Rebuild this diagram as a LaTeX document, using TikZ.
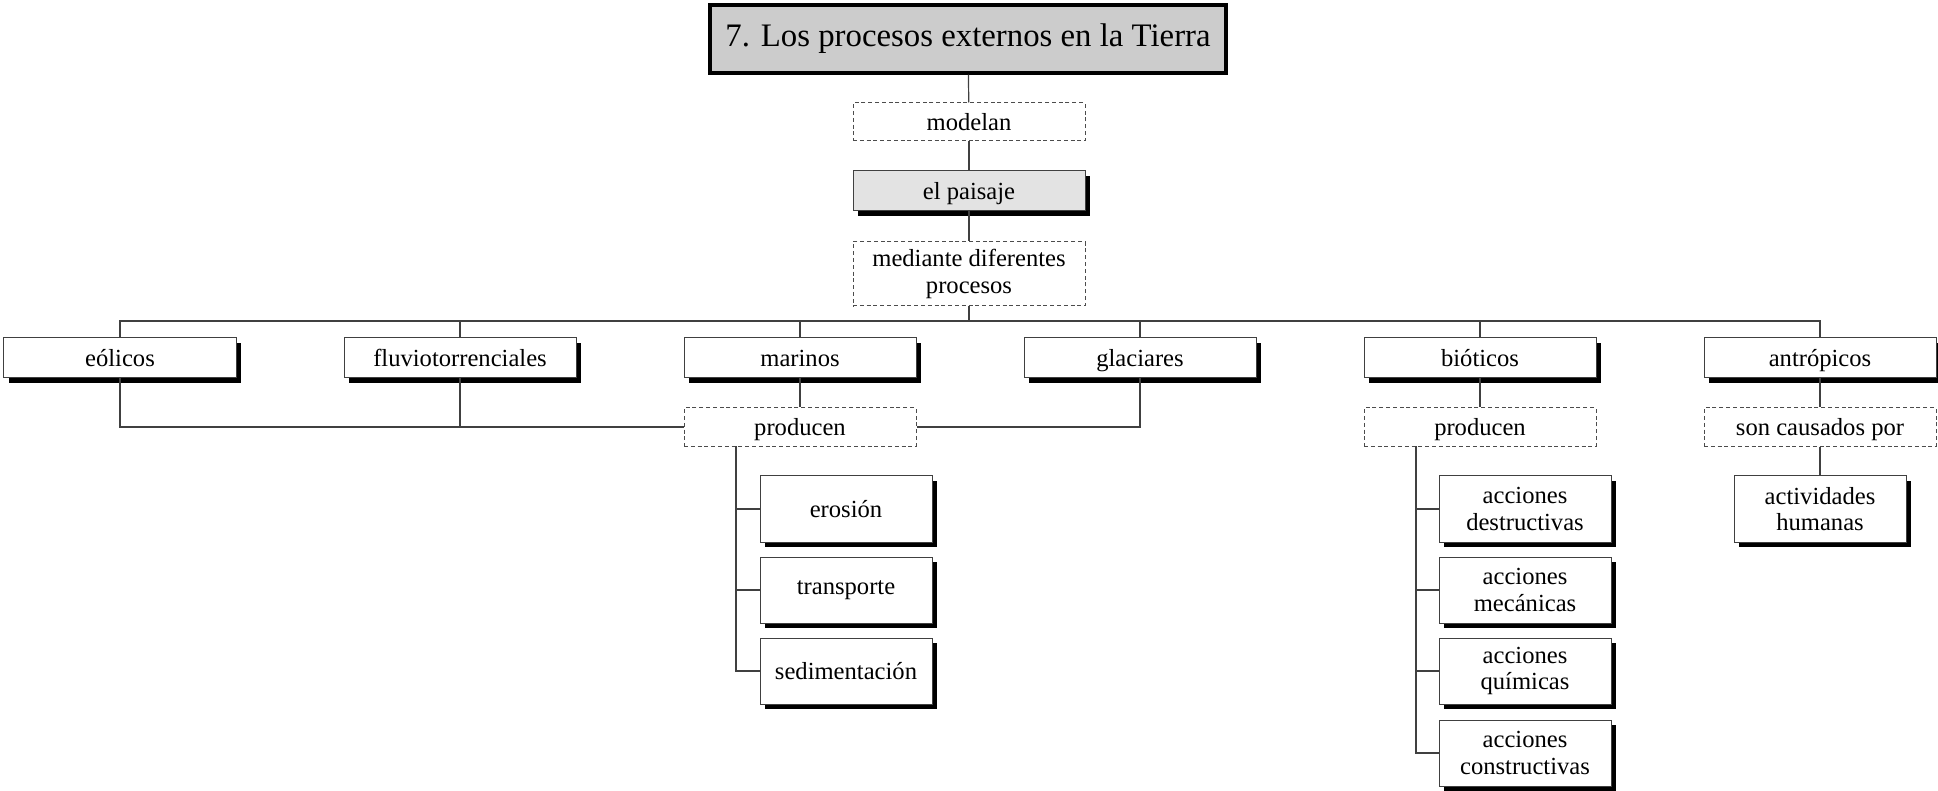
\documentclass[tikz,border=0pt]{standalone}
\usepackage{fontspec}
\setmainfont{Liberation Serif}
\usetikzlibrary{shadows}
\tikzset{
  box/.style={draw=black!75, fill=white, line width=0.5pt, minimum width=116pt, minimum height=20pt,
    inner sep=1pt, align=center, font=\fontsize{12.3}{13.4}\selectfont,
    text height=9.8pt, text depth=1.5pt,
    drop shadow={shadow xshift=2.3pt, shadow yshift=-2.3pt, fill=black, opacity=1}},
  smallbox/.style={box, minimum width=86pt, minimum height=33pt, text height={}, text depth={}},
  linkbox/.style={draw=black!70, fill=white, line width=0.5pt, dash pattern=on 2pt off 1.4pt,
    minimum width=116pt, minimum height=19pt, inner sep=1pt, align=center,
    font=\fontsize{12.3}{13.4}\selectfont, text height=9.8pt, text depth=1.5pt},
  conn/.style={draw=black!75, line width=0.6pt}
}
\begin{document}
\begin{tikzpicture}[x=50pt, y=50pt]
    \useasboundingbox (0,0) rectangle (19.38,-7.91);
    % title and central column
    \node[draw=black, line width=1.6pt, fill=black!20, minimum width=258pt, minimum height=34pt,
      font=\fontsize{16.4}{18}\selectfont] (titulo) at (9.68,-0.39) {7. Los procesos externos en la Tierra};
    \node[linkbox] (modelan) at (9.69,-1.22) {modelan};
    \node[box, fill=black!11] (paisaje) at (9.69,-1.91) {el paisaje};
    \node[linkbox, minimum height=32pt, text height={}, text depth={}] (mediante) at (9.69,-2.74) {mediante diferentes\\procesos};
    \coordinate (bus) at (9.69,-3.21);
    % kinds of processes
    \node[box] (eolicos) at (1.20,-3.58) {eólicos};
    \node[box] (fluvio) at (4.60,-3.58) {fluviotorrenciales};
    \node[box] (marinos) at (8.00,-3.58) {marinos};
    \node[box] (glaciares) at (11.40,-3.58) {glaciares};
    \node[box] (bioticos) at (14.80,-3.58) {bióticos};
    \node[box] (antropicos) at (18.20,-3.58) {antrópicos};
    % links
    \node[linkbox] (producenA) at (8.00,-4.27) {producen};
    \node[linkbox] (producenB) at (14.80,-4.27) {producen};
    \node[linkbox] (causados) at (18.20,-4.27) {son causados por};
    % results
    \node[smallbox] (erosion) at (8.46,-5.09) {erosión};
    \node[smallbox] (transporte) at (8.46,-5.90) {transporte};
    \node[smallbox] (sedimentacion) at (8.46,-6.71) {sedimentación};
    \node[smallbox] (destructivas) at (15.25,-5.09) {acciones\\destructivas};
    \node[smallbox] (mecanicas) at (15.25,-5.90) {acciones\\mecánicas};
    \node[smallbox] (quimicas) at (15.25,-6.71) {acciones\\químicas};
    \node[smallbox] (constructivas) at (15.25,-7.53) {acciones\\constructivas};
    \node[smallbox] (humanas) at (18.20,-5.09) {actividades\\humanas};
    % connectors
    \draw[conn] (titulo) -- (modelan);
    \draw[conn] (modelan) -- (paisaje);
    \draw[conn] (paisaje) -- (mediante);
    \draw[conn] (mediante) -- (bus);
    \draw[conn] (eolicos.north) |- (bus) -| (antropicos.north);
    \foreach \n in {fluvio, marinos, glaciares, bioticos}
        \draw[conn] (\n.north) -- (\n.north |- bus);
    \draw[conn] (eolicos.south) |- (producenA.west);
    \draw[conn] (fluvio.south) -- (fluvio.south |- producenA.west);
    \draw[conn] (glaciares.south) |- (producenA.east);
    \draw[conn] (marinos) -- (producenA);
    \draw[conn] (bioticos) -- (producenB);
    \draw[conn] (antropicos) -- (causados);
    \draw[conn] (causados) -- (humanas);
    \coordinate (troncoA) at (7.36,-4.46);
    \coordinate (troncoB) at (14.16,-4.46);
    \foreach \n in {erosion, transporte, sedimentacion}
        \draw[conn] (troncoA) |- (\n.west);
    \foreach \n in {destructivas, mecanicas, quimicas, constructivas}
        \draw[conn] (troncoB) |- (\n.west);
\end{tikzpicture}
\end{document}
